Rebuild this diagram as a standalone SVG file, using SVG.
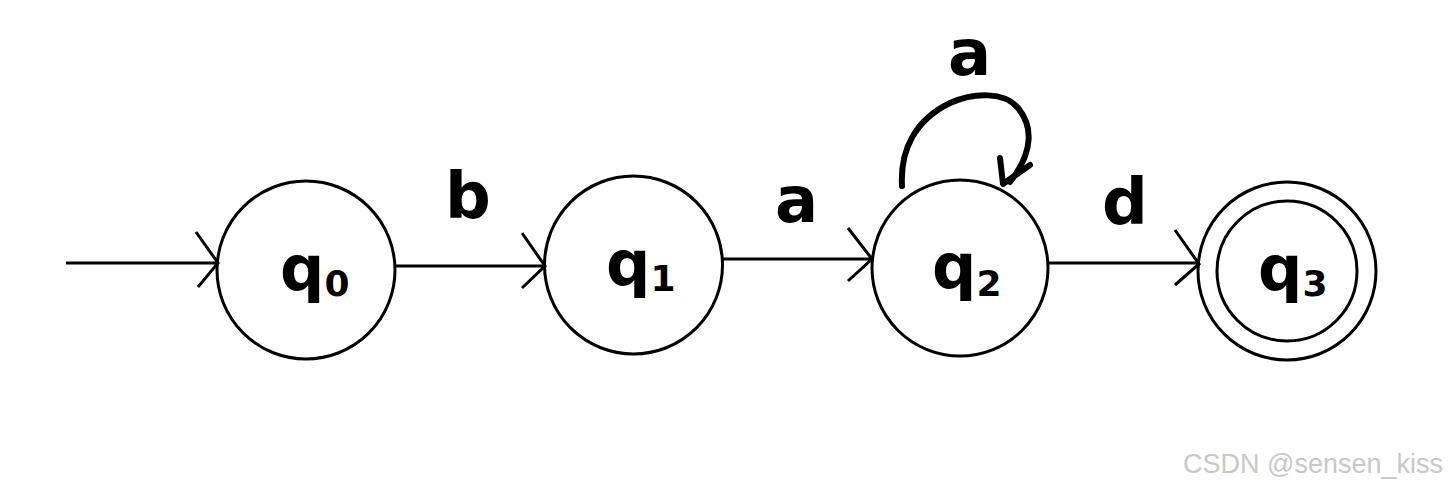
<svg xmlns="http://www.w3.org/2000/svg" width="1452" height="490" viewBox="0 0 1452 490">
<style>
.st{fill:none;stroke:#000;stroke-width:3}
.lbl{font-family:"DejaVu Sans",sans-serif;font-weight:bold;fill:#000}
.q{font-size:62px}
.sub{font-size:36px}
.el{font-size:64px}
.wm{font-family:"Liberation Sans",Arial,sans-serif;font-size:27px;fill:#c8c8c8}
</style>
<rect width="1452" height="490" fill="#fff"/>
<g id="connectors">
<path class="st" d="M66 263 H218 M196 232 L218 263 L198 287"/>
<path class="st" d="M395 266 H545 M522 233 L545 266 L522 288"/>
<path class="st" d="M722 259 H872 M848 228 L872 259 L848 281"/>
<path class="st" d="M1048 263 H1199 M1175 230 L1199 264 L1175 285"/>
<path fill="none" stroke="#000" stroke-width="6" stroke-linecap="round" stroke-linejoin="round" d="M902 186 C900 150 915 120 950 103 C975 92 1005 92 1018 108 C1032 125 1035 150 1010 182 M1000 158 L1003 184 L1030 165"/>
<text class="lbl el" x="445" y="218">b</text>
<text class="lbl el" x="775" y="222">a</text>
<text class="lbl el" x="1102" y="224">d</text>
<text class="lbl el" x="948" y="75">a</text>
</g>
<g id="q0">
<circle class="st" cx="306" cy="270" r="89"/>
<text class="lbl q" x="280" y="290">q<tspan class="sub" dy="6">0</tspan></text>
</g>
<g id="q1">
<circle class="st" cx="633.5" cy="265" r="89"/>
<text class="lbl q" x="606" y="285">q<tspan class="sub" dy="6">1</tspan></text>
</g>
<g id="q2">
<circle class="st" cx="960" cy="268" r="88"/>
<text class="lbl q" x="932" y="288">q<tspan class="sub" dy="8">2</tspan></text>
</g>
<g id="q3">
<circle class="st" cx="1287" cy="271" r="89"/>
<circle class="st" cx="1287" cy="271" r="70"/>
<text class="lbl q" x="1258" y="290">q<tspan class="sub" dy="6">3</tspan></text>
</g>
<text class="wm" x="1183" y="473">CSDN @sensen_kiss</text>
</svg>
